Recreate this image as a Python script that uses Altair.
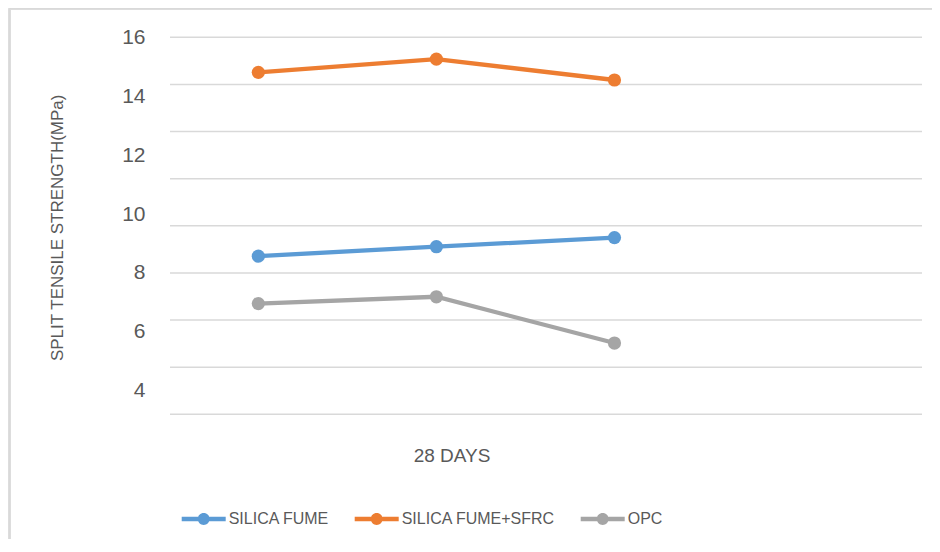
import altair as alt
import pandas as pd

# ---- data ----
series_names = ["SILICA FUME", "SILICA FUME+SFRC", "OPC"]
positions = [1, 2, 3]
silica_fume = [8.57, 8.89, 9.20]
silica_fume_sfrc = [14.81, 15.26, 14.55]
opc = [6.96, 7.19, 5.62]
series_colors = ["#5B9BD5", "#ED7D31", "#A5A5A5"]

y_tick_values = [4, 6, 8, 10, 12, 14, 16]
grid_values = [3.2, 4.8, 6.4, 8.0, 9.6, 11.2, 12.8, 14.4, 16.0]
x_label = "28 DAYS"
x_label_pos = 2.085
y_title = "SPLIT TENSILE STRENGTH(MPa)"

rows = []
for name, vals in zip(series_names, [silica_fume, silica_fume_sfrc, opc]):
    for p, v in zip(positions, vals):
        rows.append({"series": name, "pos": p, "value": v})
df = pd.DataFrame(rows)
grid_df = pd.DataFrame({"g": grid_values})

W, H = 752, 377
FONT = "Liberation Sans"
TXT = "#595959"

xscale = alt.Scale(domain=[0.504, 4.727], nice=False, zero=False)
yscale = alt.Scale(domain=[3.2, 16.0], nice=False, zero=False)

y_axis = alt.Axis(
    values=y_tick_values,
    title=y_title,
    grid=False,
    domain=False,
    ticks=False,
    labelFont=FONT,
    labelFontSize=21,
    labelColor=TXT,
    labelPadding=25,
    titleFont=FONT,
    titleFontSize=17,
    titleFontWeight="normal",
    titleColor=TXT,
    titleX=-113,
    titleY=190,
    titleAngle=-90,
    titleBaseline="middle",
)
x_axis = alt.Axis(
    values=[x_label_pos],
    labelExpr="'" + x_label + "'",
    title=None,
    grid=False,
    domain=False,
    ticks=False,
    labelFont=FONT,
    labelFontSize=19,
    labelColor=TXT,
    labelPadding=32,
)

legend_symbol = (
    "M-1,-0.1 L1,-0.1 L1,0.1 L-1,0.1 Z "
    "M-0.27,0 A0.27,0.27 0 1,1 0.27,0 A0.27,0.27 0 1,1 -0.27,0 Z"
)
legend = alt.Legend(
    title=None,
    orient="none",
    direction="horizontal",
    legendX=11.7,
    legendY=459.7,
    symbolType=legend_symbol,
    symbolSize=1936,
    symbolStrokeWidth=0,
    symbolOpacity=1,
    labelFont=FONT,
    labelFontSize=16,
    labelColor=TXT,
    labelOffset=3,
    labelLimit=400,
    columnPadding=25,
    padding=0,
)
color = alt.Color(
    "series:N",
    scale=alt.Scale(domain=series_names, range=series_colors),
    sort=series_names,
    legend=legend,
)

x_enc = alt.X("pos:Q", scale=xscale, axis=x_axis)
y_enc = alt.Y("value:Q", scale=yscale, axis=y_axis)

grid = alt.Chart(grid_df).mark_rule(color="#D9D9D9", strokeWidth=1.5).encode(
    y=alt.Y("g:Q", scale=yscale, axis=y_axis),
    x=alt.value(0),
    x2=alt.value(W),
)

lines = alt.Chart(df).mark_line(strokeWidth=4.3).encode(
    x=x_enc, y=y_enc, color=color
)

points = alt.Chart(df).mark_point(filled=True, size=175, opacity=1).encode(
    x=x_enc, y=y_enc, color=color
)

border_top = alt.Chart(grid_df).mark_rule(color="#D9D9D9", strokeWidth=1.5).encode(
    x=alt.value(-160.5), x2=alt.value(770), y=alt.value(-28.8)
)
border_left = alt.Chart(grid_df).mark_rule(color="#D9D9D9", strokeWidth=1.5).encode(
    x=alt.value(-160.5), y=alt.value(-28.8), y2=alt.value(520)
)

chart = (
    alt.layer(border_top, border_left, grid, lines, points)
    .properties(
        width=W,
        height=H,
        autosize=alt.AutoSizeParams(type="none"),
        padding={"left": 162, "top": 29.3, "right": 10, "bottom": 125},
    )
    .configure(background="white")
    .configure_view(stroke=None)
)

chart.save("out.html", embed_options={"renderer": "svg", "actions": False})
